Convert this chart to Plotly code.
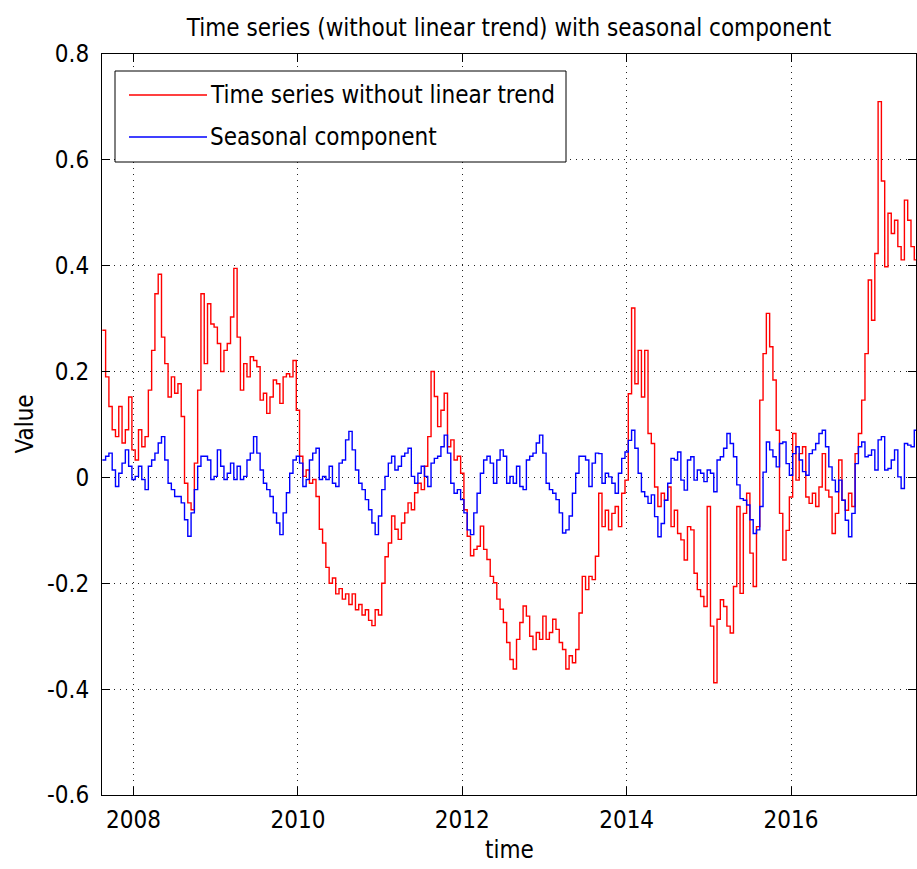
import numpy as np
import plotly.graph_objects as go

# Weekly-ish samples (every 0.04 year) starting at T0
T0 = 2007.62
STEP = 0.04

detrended = [
    0.278, 0.190, 0.134, 0.090, 0.077, 0.134, 0.065, 0.090, 0.152, 0.052,
    0.033, 0.090, 0.058, 0.077, 0.165, 0.240, 0.347, 0.384, 0.265, 0.215,
    0.152, 0.190, 0.159, 0.177, 0.115, -0.011, -0.048, -0.061, 0.027, 0.165,
    0.347, 0.215, 0.328, 0.290, 0.284, 0.253, 0.200, 0.240, 0.253, 0.303,
    0.395, 0.265, 0.165, 0.215, 0.190, 0.228, 0.221, 0.209, 0.146, 0.159,
    0.121, 0.152, 0.184, 0.177, 0.140, 0.190, 0.196, 0.190, 0.221, 0.127,
    0.040, 0.002, 0.014, -0.011, -0.004, -0.036, -0.098, -0.124, -0.170, -0.200,
    -0.190, -0.220, -0.210, -0.230, -0.220, -0.240, -0.220, -0.250, -0.240, -0.260,
    -0.250, -0.270, -0.280, -0.250, -0.260, -0.200, -0.150, -0.124, -0.073, -0.098,
    -0.117, -0.086, -0.067, -0.048, -0.061, -0.029, -0.011, -0.023, 0.021, 0.077,
    0.200, 0.153, 0.096, 0.127, 0.159, 0.058, 0.071, 0.033, 0.040, 0.008,
    -0.061, -0.111, -0.148, -0.136, -0.130, -0.092, -0.136, -0.155, -0.187, -0.199,
    -0.230, -0.249, -0.274, -0.312, -0.344, -0.362, -0.306, -0.274, -0.243, -0.262,
    -0.300, -0.325, -0.293, -0.306, -0.262, -0.306, -0.293, -0.268, -0.287, -0.312,
    -0.325, -0.362, -0.337, -0.350, -0.325, -0.256, -0.187, -0.212, -0.187, -0.193,
    -0.149, -0.030, -0.093, -0.062, -0.099, -0.068, -0.055, -0.093, -0.030, -0.005,
    0.158, 0.320, 0.177, 0.240, 0.152, 0.240, 0.083, 0.064, -0.018, -0.055,
    -0.030, -0.043, -0.018, -0.093, -0.062, -0.106, -0.118, -0.156, -0.093, -0.099,
    -0.181, -0.212, -0.225, -0.244, -0.055, -0.281, -0.388, -0.268, -0.231, -0.244,
    -0.281, -0.294, -0.206, -0.055, -0.219, -0.068, -0.030, -0.143, -0.206, -0.093,
    0.146, 0.234, 0.310, 0.247, 0.184, 0.089, -0.068, -0.156, -0.100, -0.037,
    0.083, -0.005, 0.045, 0.058, -0.037, -0.049, -0.030, -0.055, -0.018, 0.045,
    -0.024, -0.037, -0.106, -0.068, 0.033, -0.043, -0.062, -0.030, -0.055, 0.045,
    0.083, 0.146, 0.234, 0.373, 0.297, 0.423, 0.710, 0.560, 0.398, 0.499,
    0.461, 0.486, 0.436, 0.411, 0.524, 0.486, 0.436, 0.411, 0.625,
]

seasonal = [
    0.033, 0.040, 0.046, 0.014, -0.017, 0.008, 0.027, 0.052, 0.021, -0.004,
    0.002, 0.021, -0.004, -0.023, 0.021, 0.033, 0.046, 0.065, 0.077, 0.033,
    -0.011, -0.023, -0.036, -0.036, -0.048, -0.080, -0.111, -0.067, -0.023, 0.021,
    0.040, 0.040, 0.033, -0.004, 0.002, 0.052, 0.021, -0.004, 0.008, 0.027,
    -0.004, 0.021, -0.004, 0.002, 0.033, 0.046, 0.077, 0.046, 0.014, -0.011,
    -0.023, -0.036, -0.067, -0.086, -0.108, -0.067, -0.029, 0.008, 0.033, 0.040,
    0.027, -0.017, -0.004, 0.033, 0.046, 0.055, -0.004, 0.002, -0.004, 0.021,
    -0.011, -0.017, 0.027, 0.033, 0.071, 0.087, 0.052, 0.014, -0.011, -0.023,
    -0.042, -0.061, -0.086, -0.108, -0.073, -0.023, 0.002, 0.027, 0.040, 0.014,
    0.021, 0.040, 0.046, 0.055, 0.002, -0.011, 0.008, 0.021, 0.002, -0.017,
    0.027, 0.036, 0.040, 0.058, 0.080, 0.046, -0.011, -0.030, -0.023, -0.042,
    -0.067, -0.099, -0.108, -0.067, -0.030, 0.008, 0.033, 0.040, 0.027, -0.011,
    0.033, 0.052, 0.040, -0.011, 0.002, -0.011, 0.021, -0.017, -0.023, 0.033,
    0.040, 0.046, 0.065, 0.080, 0.046, -0.011, -0.023, -0.030, -0.042, -0.067,
    -0.105, -0.099, -0.073, -0.030, 0.008, 0.040, 0.040, 0.033, -0.017, 0.027,
    0.046, 0.045, -0.011, 0.008, 0.001, -0.011, -0.030, 0.008, 0.036, 0.048,
    0.070, 0.089, 0.055, 0.008, -0.027, -0.036, -0.049, -0.033, -0.074, -0.112,
    -0.087, -0.043, -0.011, 0.036, 0.033, 0.048, -0.005, -0.024, 0.033, 0.039,
    -0.005, 0.014, 0.008, -0.008, 0.014, 0.008, -0.027, 0.033, 0.039, 0.055,
    0.083, 0.064, 0.039, -0.014, -0.040, -0.043, -0.052, -0.080, -0.106, -0.099,
    -0.055, 0.010, 0.067, 0.052, 0.039, 0.020, 0.064, 0.067, 0.026, 0.004,
    0.045, 0.058, 0.033, 0.011, 0.004, 0.045, 0.052, 0.064, 0.083, 0.089,
    0.058, 0.020, -0.005, -0.027, -0.005, -0.043, -0.081, -0.112, -0.068, 0.026,
    0.058, 0.067, 0.039, 0.042, 0.052, 0.014, 0.071, 0.077, 0.014, 0.017,
    0.033, 0.052, 0.001, -0.021, 0.064, 0.061, 0.058, 0.089, 0.108,
]

x_ticks = [2008, 2010, 2012, 2014, 2016]
x_labels = ["2008", "2010", "2012", "2014", "2016"]
y_ticks = [-0.6, -0.4, -0.2, 0, 0.2, 0.4, 0.6, 0.8]
y_labels = ["-0.6", "-0.4", "-0.2", "0", "0.2", "0.4", "0.6", "0.8"]

series_names = ["Time series without linear trend", "Seasonal component"]
series_colors = ["#ff0000", "#0000ff"]

t = T0 + STEP * np.arange(len(detrended))

FONT = "DejaVu Sans Condensed, Liberation Sans Narrow, Arial Narrow, sans-serif"
FS = 24
LW = 1.4

fig = go.Figure()
for vals, name, color in zip([detrended, seasonal], series_names, series_colors):
    fig.add_trace(go.Scatter(x=t, y=vals, mode="lines", name=name,
                             line=dict(color=color, width=LW, shape="hv"),
                             showlegend=False))

axis_common = dict(
    showline=True, linecolor="black", linewidth=1, mirror="ticks",
    ticks="inside", ticklen=8, tickwidth=1, tickcolor="black",
    showgrid=True, gridcolor="#222222", gridwidth=1, griddash="1px,5px",
    zeroline=False, tickfont=dict(family=FONT, size=FS, color="black"),
)

fig.update_xaxes(range=[2007.616, 2017.521], tickvals=x_ticks, ticktext=x_labels,
                 ticklabelstandoff=3, **axis_common)
fig.update_yaxes(range=[-0.6, 0.8], tickvals=y_ticks, ticktext=y_labels,
                 ticklabelstandoff=7, **axis_common)

# Legend drawn as a boxed key in the upper left of the axes
W, L, R, T, B = 917, 102, 1, 54, 74
pw, ph = W - L - R, 869 - T - B


def px(xp):
    return (xp - L) / pw


def py(yp):
    return (869 - B - yp) / ph


shapes = [dict(type="rect", xref="paper", yref="paper",
               x0=px(115), x1=px(566), y0=py(162), y1=py(71),
               line=dict(color="black", width=1), fillcolor="white", layer="above")]
annotations = []
for k, (name, color) in enumerate(zip(series_names, series_colors)):
    yy = py(95 + 42 * k)
    shapes.append(dict(type="line", xref="paper", yref="paper",
                       x0=px(129), x1=px(207), y0=yy, y1=yy,
                       line=dict(color=color, width=LW), layer="above"))
    annotations.append(dict(xref="paper", yref="paper", x=px(208), y=yy,
                            xanchor="left", yanchor="middle", showarrow=False,
                            text=name, font=dict(family=FONT, size=FS, color="black")))

annotations.append(dict(xref="paper", yref="paper", x=px(24), y=0.5,
                        xanchor="center", yanchor="middle", showarrow=False,
                        text="Value", textangle=-90,
                        font=dict(family=FONT, size=FS, color="black")))
annotations.append(dict(xref="paper", yref="paper", x=0.5, y=py(850),
                        xanchor="center", yanchor="middle", showarrow=False,
                        text="time", font=dict(family=FONT, size=FS, color="black")))

fig.update_layout(
    width=W, height=869,
    margin=dict(l=L, r=R, t=T, b=B),
    paper_bgcolor="white", plot_bgcolor="white",
    title=dict(text="Time series (without linear trend) with seasonal component",
               x=0.5, xref="paper", y=1 - 28 / 869, yref="container",
               xanchor="center", yanchor="middle",
               font=dict(family=FONT, size=FS, color="black")),
    shapes=shapes, annotations=annotations,
    showlegend=False,
)

fig.write_html("out.html")
